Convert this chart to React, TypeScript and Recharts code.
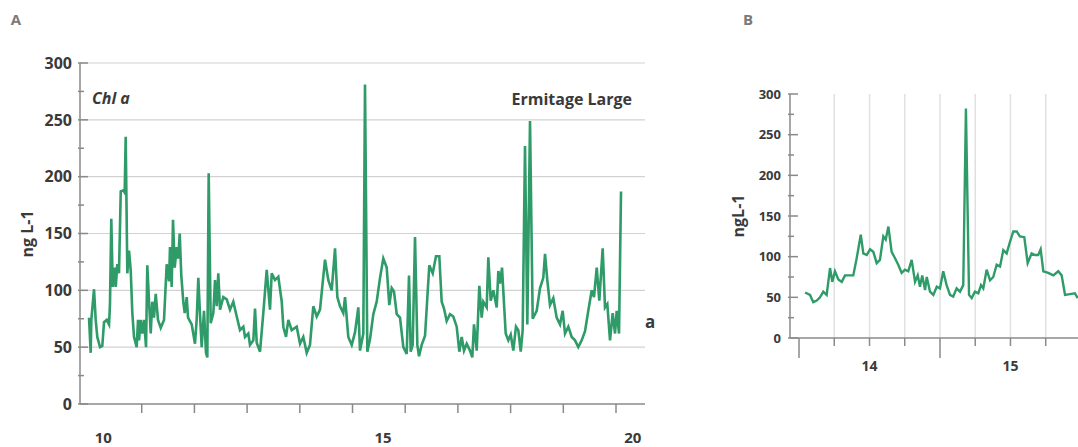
import { LineChart, Line, XAxis, YAxis, CartesianGrid } from 'recharts';

// panel A: Chl a, Ermitage Large, 2010-2020 (decimal years, 10 = 2010)
const chlATimes = [
  10.000, 10.032, 10.044, 10.095, 10.127, 10.157, 10.209, 10.252, 10.285, 10.336,
  10.380, 10.398, 10.423, 10.450, 10.488, 10.507, 10.537, 10.569, 10.602, 10.651,
  10.677, 10.696, 10.727, 10.759, 10.791, 10.822, 10.854, 10.905, 10.930, 10.949,
  10.981, 11.011, 11.044, 11.082, 11.106, 11.139, 11.171, 11.201, 11.233, 11.266,
  11.309, 11.361, 11.423, 11.474, 11.518, 11.537, 11.569, 11.594, 11.626, 11.664,
  11.694, 11.721, 11.751, 11.789, 11.816, 11.854, 11.879, 11.949, 12.011, 12.044,
  12.074, 12.106, 12.138, 12.182, 12.220, 12.245, 12.271, 12.309, 12.359, 12.391,
  12.423, 12.453, 12.486, 12.548, 12.613, 12.675, 12.738, 12.803, 12.865, 12.928,
  12.960, 13.023, 13.055, 13.118, 13.150, 13.182, 13.245, 13.307, 13.372, 13.434,
  13.467, 13.529, 13.592, 13.657, 13.687, 13.738, 13.782, 13.846, 13.941, 14.004,
  14.066, 14.131, 14.193, 14.256, 14.321, 14.383, 14.478, 14.541, 14.605, 14.636,
  14.668, 14.712, 14.763, 14.825, 14.858, 14.920, 14.985, 15.047, 15.110, 15.142,
  15.205, 15.237, 15.281, 15.332, 15.395, 15.459, 15.522, 15.584, 15.649, 15.698,
  15.744, 15.787, 15.839, 15.901, 15.964, 16.028, 16.072, 16.104, 16.142, 16.186,
  16.230, 16.262, 16.313, 16.376, 16.419, 16.457, 16.522, 16.584, 16.647, 16.692,
  16.736, 16.787, 16.850, 16.912, 16.977, 17.027, 17.072, 17.116, 17.167, 17.229,
  17.273, 17.305, 17.357, 17.406, 17.451, 17.482, 17.546, 17.577, 17.622, 17.672,
  17.736, 17.767, 17.799, 17.837, 17.875, 17.907, 17.956, 18.002, 18.051, 18.102,
  18.146, 18.192, 18.229, 18.273, 18.317, 18.368, 18.419, 18.495, 18.558, 18.620,
  18.653, 18.696, 18.747, 18.810, 18.874, 18.937, 18.988, 19.032, 19.095, 19.159,
  19.222, 19.284, 19.349, 19.412, 19.474, 19.539, 19.582, 19.634, 19.683, 19.747,
  19.791, 19.835, 19.886, 19.937, 19.981, 20.013, 20.057, 20.095,
];

const chlAValues = [
  76, 45, 74, 101, 74, 59, 50, 51, 72, 74,
  70, 88, 163, 103, 120, 103, 123, 115, 187, 188,
  186, 235, 115, 135, 118, 80, 59, 50, 74, 56,
  74, 62, 74, 50, 122, 90, 62, 90, 76, 97,
  74, 67, 74, 123, 108, 138, 103, 162, 120, 138,
  128, 150, 113, 90, 80, 94, 76, 70, 53, 75,
  111, 79, 50, 82, 45, 41, 203, 71, 80, 109,
  86, 115, 83, 94, 92, 83, 90, 77, 65, 68,
  59, 62, 52, 56, 84, 54, 46, 80, 118, 83,
  115, 109, 112, 90, 68, 59, 74, 65, 68, 53,
  59, 45, 52, 86, 77, 83, 127, 109, 100, 118,
  137, 94, 86, 80, 94, 59, 52, 63, 85, 47,
  62, 281, 46, 57, 79, 90, 111, 128, 120, 87,
  102, 99, 79, 76, 50, 44, 113, 46, 52, 147,
  52, 42, 52, 60, 93, 122, 115, 130, 130, 90,
  84, 73, 79, 77, 68, 46, 59, 47, 53, 47,
  41, 70, 47, 104, 76, 90, 85, 129, 91, 100,
  85, 117, 106, 120, 88, 62, 56, 61, 47, 68,
  65, 46, 65, 227, 70, 249, 75, 82, 102, 111,
  132, 109, 87, 93, 76, 70, 82, 62, 68, 59,
  56, 50, 56, 64, 82, 100, 94, 120, 91, 137,
  85, 88, 56, 80, 62, 82, 62, 187,
];

// panel B: zoom on 2014-2015
const chlBTimes = [
  14.043, 14.078, 14.101, 14.126, 14.149, 14.172, 14.196, 14.220, 14.236, 14.255,
  14.279, 14.303, 14.326, 14.362, 14.385, 14.409, 14.438, 14.456, 14.480, 14.504,
  14.527, 14.551, 14.574, 14.598, 14.615, 14.634, 14.657, 14.681, 14.704, 14.728,
  14.752, 14.775, 14.799, 14.823, 14.842, 14.858, 14.874, 14.894, 14.906, 14.929,
  14.953, 14.977, 15.000, 15.023, 15.047, 15.071, 15.094, 15.118, 15.142, 15.165,
  15.184, 15.206, 15.225, 15.248, 15.272, 15.291, 15.307, 15.331, 15.355, 15.378,
  15.402, 15.426, 15.449, 15.473, 15.496, 15.520, 15.544, 15.567, 15.598, 15.622,
  15.650, 15.674, 15.697, 15.714, 15.733, 15.768, 15.804, 15.839, 15.863, 15.887,
  15.922, 15.957, 15.977,
];

const chlBValues = [
  56, 53, 44, 46, 50, 57, 53, 86, 69, 82,
  72, 69, 77, 77, 77, 98, 127, 104, 102, 109,
  106, 92, 96, 125, 121, 137, 106, 98, 90, 80,
  84, 82, 96, 69, 77, 63, 77, 59, 75, 57,
  53, 63, 61, 82, 65, 53, 51, 61, 57, 65,
  282, 53, 49, 57, 55, 65, 61, 84, 71, 75,
  90, 88, 108, 104, 118, 131, 131, 125, 124, 92,
  104, 102, 102, 109, 82, 80, 77, 82, 77, 53,
  54, 55, 49,
];

const yTicks = [0, 25, 50, 75, 100, 125, 150, 175, 200, 225, 250, 275, 300];
const gridA = [50, 100, 150, 200, 250, 300];
const yearTicksA = [11, 12, 13, 14, 15, 16, 17, 18, 19, 20];
const yearLabelsA = [
  { at: 10.27, label: '10' },
  { at: 15.58, label: '15' },
  { at: 20.32, label: '20' },
];
const quarterTicksB = [14, 14.25, 14.5, 14.75, 15, 15.25, 15.5, 15.75];
const yearLabelsB = [
  { at: 14.5, label: '14' },
  { at: 15.5, label: '15' },
];

const dataA = chlATimes.map((t, i) => ({ t, v: chlAValues[i] }));
const dataB = chlBTimes.map((t, i) => ({ t, v: chlBValues[i] }));

const GREEN = '#2e9b68';
const AXIS = '#8a8a8a';
const TEXT = '#3a3a3a';
const FONT = '"Open Sans", "Liberation Sans", sans-serif';

const yTick = (size: number, gap: number) => (props: any) => {
  const { x, y, payload } = props;
  const major = payload.value % 50 === 0;
  return (
    <g>
      <line x1={x - 2} x2={x + (major ? 8 : 4)} y1={y} y2={y} stroke={AXIS} strokeWidth={1.5} />
      {major && (
        <text x={x - gap} y={y} dy="0.36em" textAnchor="end" fontFamily={FONT} fontWeight={700} fontSize={size} fill={TEXT}>
          {payload.value}
        </text>
      )}
    </g>
  );
};

const xTickA = (props: any) => {
  const { x, y, payload } = props;
  const lab = yearLabelsA.find(l => l.at === payload.value);
  if (lab) {
    return (
      <text x={x} y={y + 39} textAnchor="middle" fontFamily={FONT} fontWeight={700} fontSize={15} fill={TEXT}>
        {lab.label}
      </text>
    );
  }
  return <line x1={x} x2={x} y1={y} y2={y + 9} stroke={AXIS} strokeWidth={1.5} />;
};

const xTickB = (props: any) => {
  const { x, y, payload } = props;
  const major = Number.isInteger(payload.value);
  const lab = yearLabelsB.find(l => l.at === payload.value);
  return (
    <g>
      <line x1={x} x2={x} y1={y} y2={y + (major ? 20 : 8)} stroke={AXIS} strokeWidth={1.5} />
      {lab && (
        <text x={x} y={y + 33} textAnchor="middle" fontFamily={FONT} fontWeight={700} fontSize={14} fill={TEXT}>
          {lab.label}
        </text>
      )}
    </g>
  );
};

export default function App() {
  return (
    <div style={{ position: 'absolute', left: 0, top: 0, width: 1078, height: 447, background: '#fff', overflow: 'hidden' }}>
      <div style={{ position: 'absolute', left: 0, top: 0 }}>
        <LineChart width={660} height={447} data={dataA} margin={{ top: 63, right: 15, bottom: 0, left: 0 }}>
          <CartesianGrid vertical={false} horizontalValues={gridA} stroke="#d2d2d2" strokeWidth={1.2} />
          <XAxis
            type="number"
            dataKey="t"
            domain={[9.829, 20.55]}
            allowDataOverflow
            ticks={[...yearTicksA, ...yearLabelsA.map(l => l.at)]}
            interval={0}
            tick={xTickA}
            tickLine={false}
            tickSize={0}
            tickMargin={0}
            axisLine={{ stroke: AXIS, strokeWidth: 1.5 }}
            height={43}
          />
          <YAxis
            type="number"
            domain={[0, 300]}
            ticks={yTicks}
            interval={0}
            tick={yTick(16, 8)}
            tickLine={false}
            tickSize={0}
            tickMargin={0}
            axisLine={{ stroke: AXIS, strokeWidth: 1.5 }}
            width={80}
          />
          <Line type="linear" dataKey="v" stroke={GREEN} strokeWidth={2.6} dot={false} isAnimationActive={false} />
        </LineChart>
      </div>

      <div style={{ position: 'absolute', left: 720, top: 0 }}>
        <LineChart width={358} height={447} data={dataB} margin={{ top: 94, right: 0, bottom: 0, left: 0 }}>
          <CartesianGrid horizontal={false} verticalValues={quarterTicksB.filter(q => q !== 14)} stroke="#e0e0e0" strokeWidth={1.5} />
          <XAxis
            type="number"
            dataKey="t"
            domain={[13.936, 15.979]}
            allowDataOverflow
            ticks={quarterTicksB}
            interval={0}
            tick={xTickB}
            tickLine={false}
            tickSize={0}
            tickMargin={0}
            axisLine={{ stroke: AXIS, strokeWidth: 1.5 }}
            height={109}
          />
          <YAxis
            type="number"
            domain={[0, 300]}
            ticks={yTicks}
            interval={0}
            tick={yTick(13, 9)}
            tickLine={false}
            tickSize={0}
            tickMargin={0}
            axisLine={{ stroke: AXIS, strokeWidth: 1.5 }}
            width={70}
          />
          <Line type="linear" dataKey="v" stroke={GREEN} strokeWidth={2.4} dot={false} isAnimationActive={false} />
        </LineChart>
      </div>

      <svg width={1078} height={447} style={{ position: 'absolute', left: 0, top: 0, pointerEvents: 'none' }} fontFamily={FONT}>
        <text x={16} y={25} textAnchor="middle" fontWeight={700} fontSize={15} fill="#7a7a7a">A</text>
        <text x={748} y={25} textAnchor="middle" fontWeight={700} fontSize={15} fill="#7a7a7a">B</text>
        <text x={92} y={104} fontWeight={700} fontStyle="italic" fontSize={16} fill={TEXT}>Chl a</text>
        <text x={632} y={105} textAnchor="end" fontWeight={700} fontSize={16} fill={TEXT}>Ermitage Large</text>
        <text x={645} y={328} fontWeight={700} fontSize={17} fill={TEXT}>a</text>
        <text transform="translate(27,234) rotate(-90)" textAnchor="middle" dy="0.35em" fontWeight={700} fontSize={16} fill={TEXT}>ng L-1</text>
        <text transform="translate(738,216) rotate(-90)" textAnchor="middle" dy="0.35em" fontWeight={700} fontSize={16} fill={TEXT}>ngL-1</text>
      </svg>
    </div>
  );
}
